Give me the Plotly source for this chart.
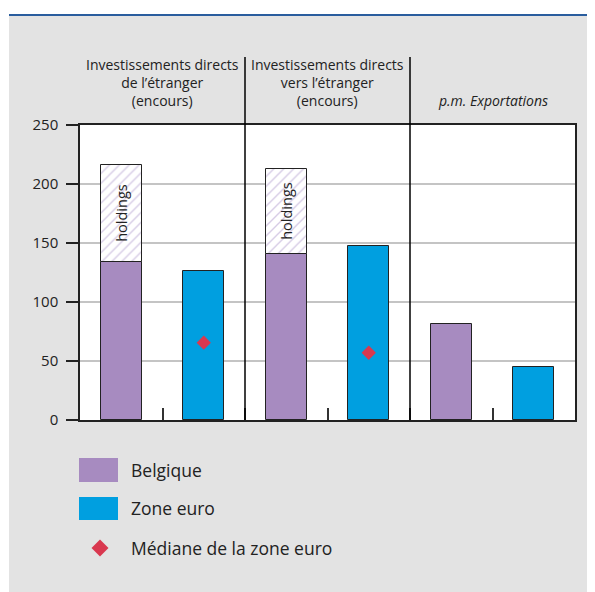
import plotly.graph_objects as go

# slots on the x axis: two bars per group, three groups
belgique_x = [0, 2, 4]
zone_x = [1, 3, 5]
holdings_x = [0, 2]

belgique_vals = [133.5, 140.5, 81]
holdings_vals = [83, 72]
zone_vals = [126, 147.5, 45]
median_x = [1, 3]
median_vals = [65.5, 57]

group_centers = [0.5, 2.5, 4.5]
group_titles = [
    "Investissements directs<br>de l\u2019étranger<br>(encours)",
    "Investissements directs<br>vers l\u2019étranger<br>(encours)",
    "<i>p.m. Exportations</i>",
]
legend_labels = ["Belgique", "Zone euro", "Médiane de la zone euro"]
y_ticks = [0, 50, 100, 150, 200, 250]

PURPLE = "#a78bc0"
BLUE = "#009fe0"
RED = "#d9384f"
TEXT = "#222222"
FONT = "Open Sans"

# page body keeps its 8px default margin, so work in screen pixels and shift
OFF = 8
W, H = 595 - OFF, 592 - OFF
L, R, T, B = 80 - OFF, 20, 125 - OFF, 172
PW, PH = W - L - R, H - T - B


def px(x):
    return (x - OFF - L) / PW


def py(y):
    return (H - B - (y - OFF)) / PH


fig = go.Figure()

fig.add_trace(go.Bar(
    x=belgique_x, y=belgique_vals, width=0.5,
    marker=dict(color=PURPLE, line=dict(color=TEXT, width=1)),
    showlegend=False, hoverinfo="skip",
))
fig.add_trace(go.Bar(
    x=holdings_x, y=holdings_vals, width=0.5, base=belgique_vals[:2],
    marker=dict(
        color="white", line=dict(color=TEXT, width=1),
        pattern=dict(shape="/", fgcolor="#ad98cc", bgcolor="white",
                     size=7, solidity=0.2),
    ),
    text=["holdings"] * len(holdings_x), textposition="inside",
    insidetextanchor="middle", textangle=-90, constraintext="none",
    insidetextfont=dict(family=FONT, size=14.5, color=TEXT),
    showlegend=False, hoverinfo="skip",
))
fig.add_trace(go.Bar(
    x=zone_x, y=zone_vals, width=0.5,
    marker=dict(color=BLUE, line=dict(color=TEXT, width=1)),
    showlegend=False, hoverinfo="skip",
))
fig.add_trace(go.Scatter(
    x=median_x, y=median_vals, mode="markers",
    marker=dict(symbol="diamond", size=11, color=RED),
    showlegend=False, hoverinfo="skip",
))

shapes = [
    # white margin strips and blue rule above the grey panel
    dict(type="rect", xref="paper", yref="paper", x0=px(0), x1=px(600),
         y0=py(14), y1=py(0), fillcolor="white", line_width=0, layer="below"),
    dict(type="rect", xref="paper", yref="paper", x0=px(0), x1=px(9),
         y0=py(600), y1=py(0), fillcolor="white", line_width=0, layer="below"),
    dict(type="line", xref="paper", yref="paper", x0=px(9), x1=px(600),
         y0=py(15), y1=py(15), line=dict(color="#2a5d9e", width=2)),
]
# group separators reaching up into the header
for xs in [1.5, 3.5]:
    shapes.append(dict(type="line", xref="x", yref="paper", x0=xs, x1=xs,
                       y0=0, y1=py(57), line=dict(color="black", width=1.5)))

# legend swatches
shapes.append(dict(type="rect", xref="paper", yref="paper", x0=px(79), x1=px(118),
                   y0=py(482), y1=py(458), fillcolor=PURPLE, line_width=0))
shapes.append(dict(type="rect", xref="paper", yref="paper", x0=px(79), x1=px(118),
                   y0=py(520), y1=py(497), fillcolor=BLUE, line_width=0))
cx, cy, r = 100, 548, 8.5
shapes.append(dict(
    type="path", xref="paper", yref="paper",
    path=(f"M {px(cx - r)} {py(cy)} L {px(cx)} {py(cy - r)} "
          f"L {px(cx + r)} {py(cy)} L {px(cx)} {py(cy + r)} Z"),
    fillcolor=RED, line_width=0,
))

annotations = []
for xc, title in zip(group_centers, group_titles):
    annotations.append(dict(
        x=xc, xref="x", y=py(112), yref="paper", text=title,
        showarrow=False, xanchor="center", yanchor="bottom", align="center",
        font=dict(family=FONT, size=14, color=TEXT),
    ))
for label, yc in zip(legend_labels, [470, 508, 548]):
    annotations.append(dict(
        x=px(129), xref="paper", y=py(yc), yref="paper", text=label,
        showarrow=False, xanchor="left", yanchor="middle",
        font=dict(family=FONT, size=17.5, color=TEXT),
    ))

fig.update_layout(
    width=W, height=H,
    margin=dict(l=L, r=R, t=T, b=B, pad=0),
    paper_bgcolor="#e3e3e3", plot_bgcolor="white",
    barmode="overlay", bargap=0,
    font=dict(family=FONT, color=TEXT),
    shapes=shapes, annotations=annotations,
    showlegend=False,
)
fig.update_xaxes(
    range=[-0.5, 5.5], showgrid=False, zeroline=False,
    tickvals=[0.5, 1.5, 2.5, 3.5, 4.5], ticktext=[""] * 5,
    ticks="inside", ticklen=12, tickwidth=1.5, tickcolor="#333333",
    showline=True, linecolor="#222222", linewidth=2, mirror=True,
)
fig.update_yaxes(
    range=[0, 250], tickvals=y_ticks,
    ticks="outside", ticklen=12, tickwidth=1.5, tickcolor="#222222",
    ticklabelstandoff=5,
    tickfont=dict(family=FONT, size=15, color=TEXT),
    showgrid=True, gridcolor="#c4c4c4", gridwidth=1.5, zeroline=False,
    showline=True, linecolor="#222222", linewidth=1.5, mirror=True,
)

fig.write_html("out.html")
